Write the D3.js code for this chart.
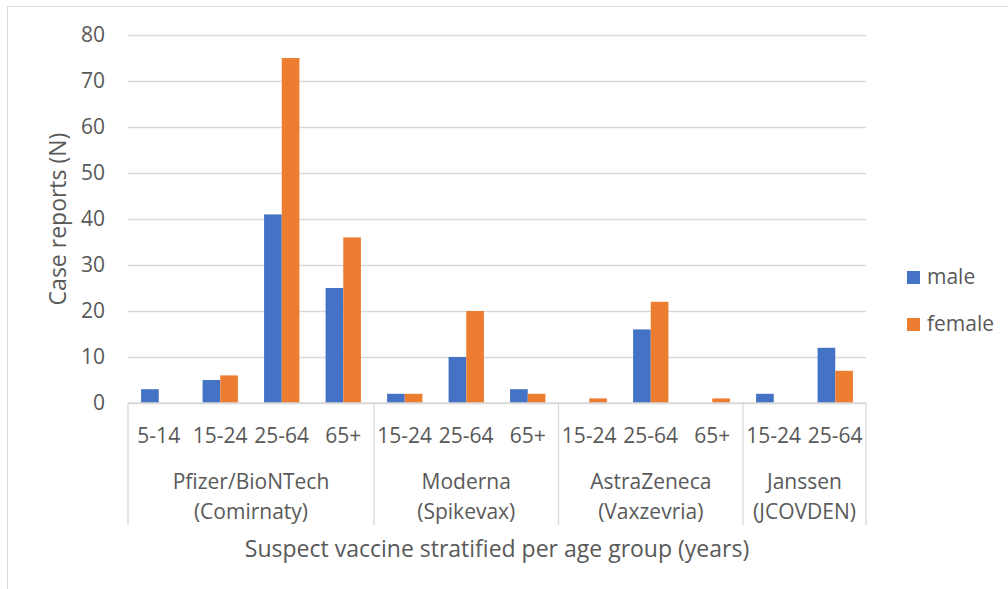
<!DOCTYPE html>
<html>
<head>
<meta charset="utf-8">
<script src="https://cdn.jsdelivr.net/npm/d3@7"></script>
<style>
  html, body { margin: 0; padding: 0; background: #fff; overflow: hidden; }
  svg { display: block; }
  text { font-family: "Open Sans", sans-serif; fill: #595959; }
</style>
</head>
<body>
<div id="chart"></div>
<script>
// Case reports per vaccine and age group, split by sex

const vaccineNames = ["Pfizer/BioNTech", "Moderna", "AstraZeneca", "Janssen"];
const vaccineBrands = ["(Comirnaty)", "(Spikevax)", "(Vaxzevria)", "(JCOVDEN)"];
const ageGroups = [
    ["5-14", "15-24", "25-64", "65+"],
    ["15-24", "25-64", "65+"],
    ["15-24", "25-64", "65+"],
    ["15-24", "25-64"]
];
const maleCases = [3, 5, 41, 25, 2, 10, 3, 0, 16, 0, 2, 12];
const femaleCases = [0, 6, 75, 36, 2, 20, 2, 1, 22, 1, 0, 7];
const seriesNames = ["male", "female"];
const yTicks = [0, 10, 20, 30, 40, 50, 60, 70, 80];

const colors = {male: "#4472C4", female: "#ED7D31"};

const width = 1008;
const height = 589;
const margin = {top: 35, right: 142, bottom: 186, left: 128};
const plotLeft = margin.left, plotRight = width - margin.right;
const plotTop = margin.top, plotBottom = height - margin.bottom;

const svg = d3.select("#chart")
    .append("svg")
    .attr("width", width)
    .attr("height", height);

// chart frame: only left and top edges are visible in the picture
svg.append("path")
    .attr("d", `M7.5,${height} V6.5 H${width}`)
    .attr("fill", "none")
    .attr("stroke", "#d9d9d9");

// flatten categories
const rows = [];
ageGroups.forEach((ages, vi) => {
    ages.forEach(age => {
        const i = rows.length;
        rows.push({i, vaccine: vi, age, male: maleCases[i], female: femaleCases[i]});
    });
});

const x0 = d3.scaleBand()
    .domain(rows.map(d => d.i))
    .range([plotLeft, plotRight]);

const x1 = d3.scaleBand()
    .domain(seriesNames)
    .range([0, x0.bandwidth()])
    .paddingOuter(0.74);

const y = d3.scaleLinear()
    .domain([0, 80])
    .range([plotBottom, plotTop]);

// gridlines
const grid = svg.append("g")
    .attr("transform", `translate(${plotLeft}, 0)`)
    .call(d3.axisLeft(y).tickValues(yTicks).tickSize(-(plotRight - plotLeft)).tickFormat(""));
grid.select(".domain").remove();
grid.selectAll(".tick line")
    .attr("stroke", "#d9d9d9")
    .attr("stroke-width", 1.3);

// y labels
svg.selectAll(".ytick")
    .data(yTicks)
    .join("text")
    .attr("class", "ytick")
    .attr("x", plotLeft - 23)
    .attr("y", d => y(d) + 7)
    .attr("text-anchor", "end")
    .style("font-size", "21px")
    .text(d => d);

// bars
svg.selectAll(".bar")
    .data(rows.flatMap(d => seriesNames.map(k => ({i: d.i, key: k, value: d[k]}))))
    .join("rect")
    .attr("class", "bar")
    .attr("x", d => x0(d.i) + x1(d.key))
    .attr("y", d => y(d.value))
    .attr("width", x1.bandwidth())
    .attr("height", d => plotBottom - y(d.value))
    .attr("fill", d => colors[d.key]);

// x axis base line
svg.append("line")
    .attr("x1", plotLeft).attr("x2", plotRight)
    .attr("y1", plotBottom).attr("y2", plotBottom)
    .attr("stroke", "#d9d9d9")
    .attr("stroke-width", 1.3);

// age labels
svg.selectAll(".age")
    .data(rows)
    .join("text")
    .attr("class", "age")
    .attr("x", d => x0(d.i) + x0.bandwidth() / 2)
    .attr("y", plotBottom + 40)
    .attr("text-anchor", "middle")
    .style("font-size", "21px")
    .text(d => d.age);

// vaccine group dividers and labels
const bounds = [];
let start = 0;
ageGroups.forEach((ages, vi) => {
    bounds.push({vi, from: start, to: start + ages.length - 1});
    start += ages.length;
});

const divX = [plotLeft].concat(bounds.map(b => x0(b.to) + x0.bandwidth()));
svg.selectAll(".divider")
    .data(divX)
    .join("line")
    .attr("class", "divider")
    .attr("x1", d => d).attr("x2", d => d)
    .attr("y1", plotBottom).attr("y2", plotBottom + 122)
    .attr("stroke", "#d9d9d9")
    .attr("stroke-width", 1.3);

const groupCenter = b => (x0(b.from) + x0(b.to) + x0.bandwidth()) / 2;

svg.selectAll(".vname")
    .data(bounds)
    .join("text")
    .attr("class", "vname")
    .attr("x", groupCenter)
    .attr("y", plotBottom + 86)
    .attr("text-anchor", "middle")
    .style("font-size", "21px")
    .text(b => vaccineNames[b.vi]);

svg.selectAll(".vbrand")
    .data(bounds)
    .join("text")
    .attr("class", "vbrand")
    .attr("x", groupCenter)
    .attr("y", plotBottom + 116)
    .attr("text-anchor", "middle")
    .style("font-size", "21px")
    .text(b => vaccineBrands[b.vi]);

// axis titles
svg.append("text")
    .attr("x", (plotLeft + plotRight) / 2)
    .attr("y", plotBottom + 154)
    .attr("text-anchor", "middle")
    .style("font-size", "23px")
    .text("Suspect vaccine stratified per age group (years)");

const yTitleX = plotLeft - 62, yTitleY = (plotTop + plotBottom) / 2;
svg.append("text")
    .attr("x", yTitleX)
    .attr("y", yTitleY)
    .attr("transform", `rotate(-90, ${yTitleX}, ${yTitleY})`)
    .attr("text-anchor", "middle")
    .style("font-size", "23px")
    .text("Case reports (N)");

// legend
svg.selectAll(".lkey")
    .data(seriesNames)
    .join("rect")
    .attr("class", "lkey")
    .attr("x", 907)
    .attr("y", (d, i) => 271 + i * 47)
    .attr("width", 13)
    .attr("height", 13)
    .attr("fill", d => colors[d]);

svg.selectAll(".ltext")
    .data(seriesNames)
    .join("text")
    .attr("class", "ltext")
    .attr("x", 927)
    .attr("y", (d, i) => 284 + i * 47)
    .style("font-size", "21px")
    .text(d => d);
</script>
</body>
</html>
